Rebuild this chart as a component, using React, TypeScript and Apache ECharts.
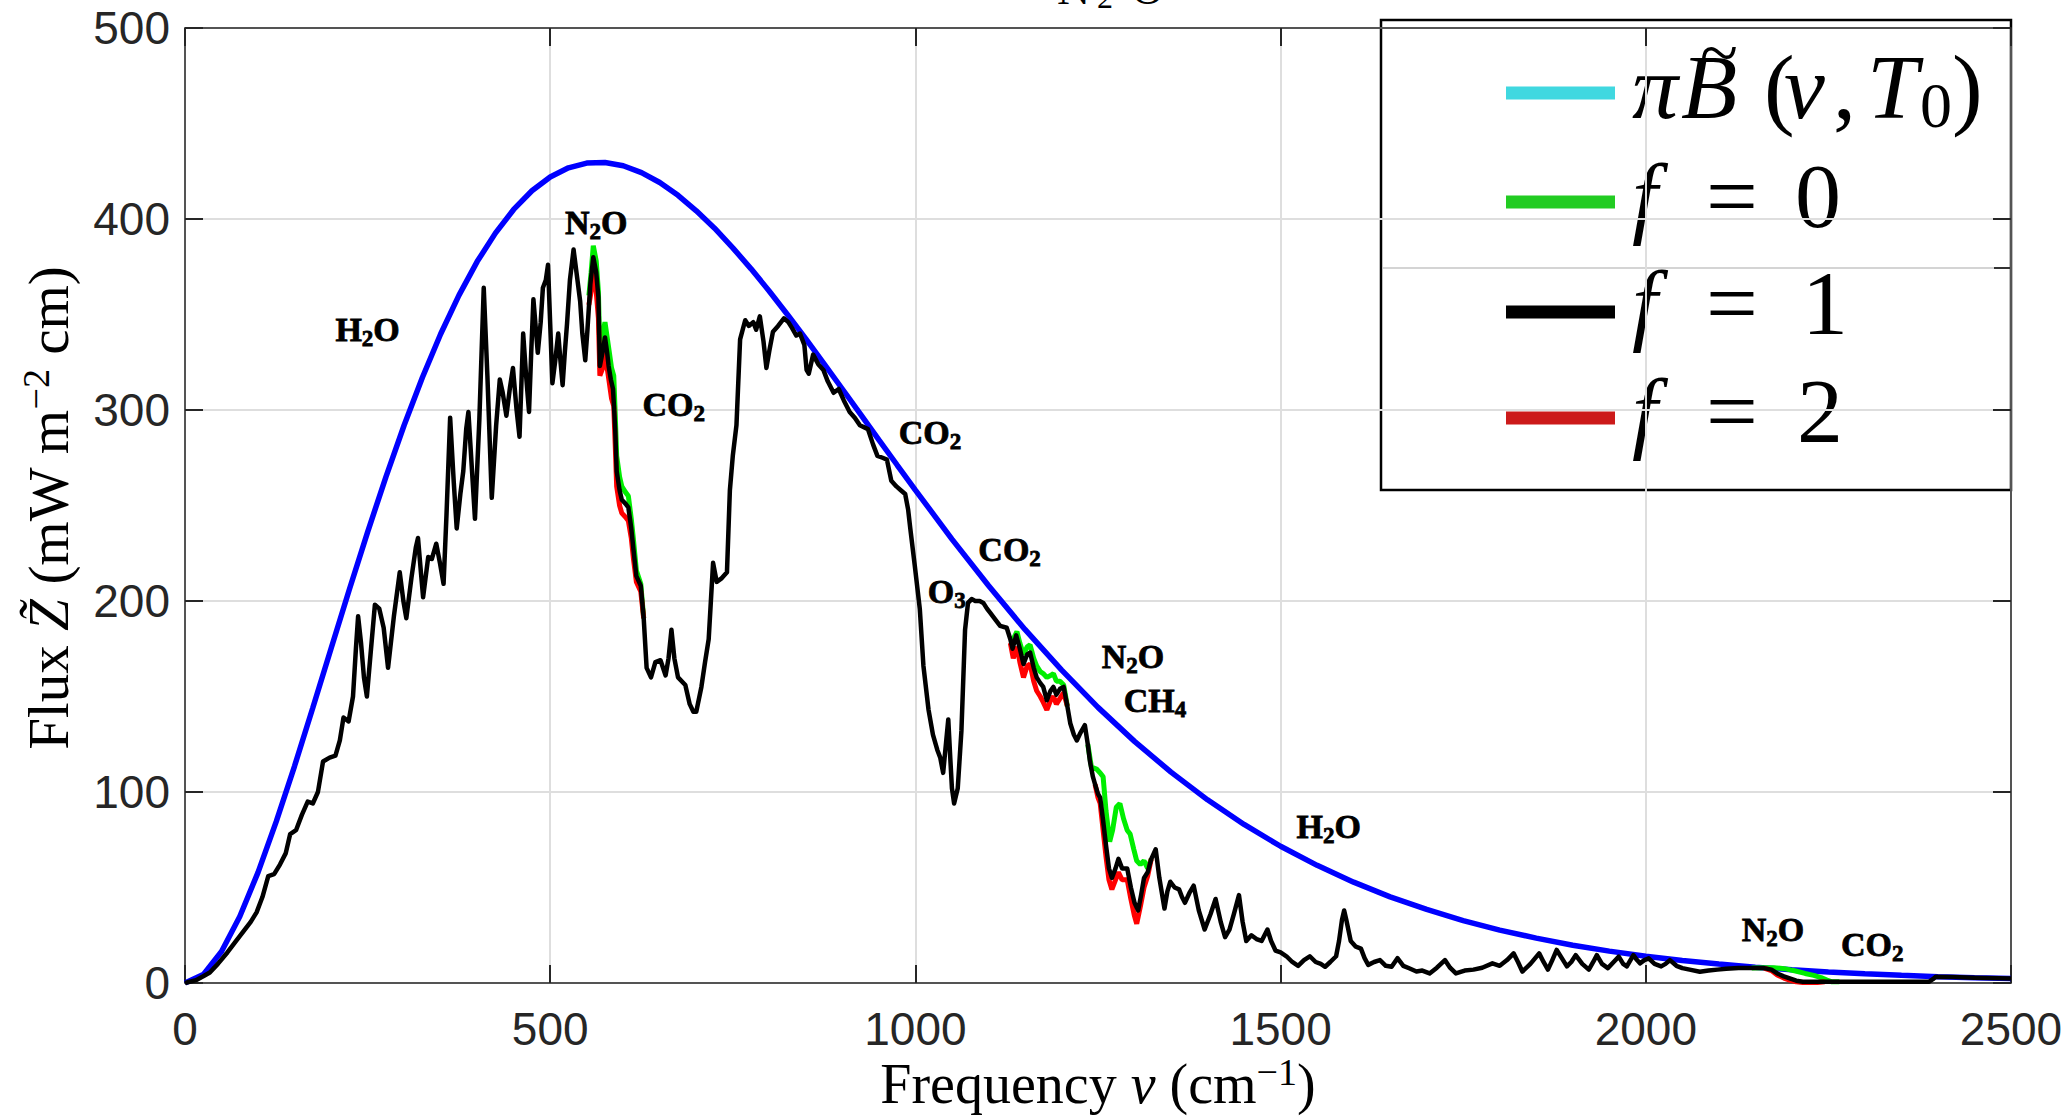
import React, { useEffect, useRef } from 'react';
import * as echarts from 'echarts';

// ---------- data ----------
const xTicks = [0, 500, 1000, 1500, 2000, 2500];
const yTicks = [0, 100, 200, 300, 400, 500];

// blue curve: pi * B(nu, T0)
const planckCurve: [number, number][] = [
  [0, 0], [25, 4.4], [50, 16.5], [75, 34.8], [100, 57.9], [125, 84.6], [150, 113.6], [175, 144.1],
  [200, 175.1], [225, 206.0], [250, 236.1], [275, 264.9], [300, 292.0], [325, 317.0], [350, 339.8],
  [375, 360.0], [400, 377.7], [425, 392.6], [450, 405.0], [475, 414.8], [500, 422.0], [525, 426.8],
  [550, 429.3], [575, 429.6], [600, 427.9], [625, 424.3], [650, 419.1], [675, 412.4], [700, 404.3],
  [725, 395.2], [750, 384.9], [775, 373.9], [800, 362.2], [825, 349.9], [850, 337.2], [875, 324.2],
  [900, 311.0], [925, 297.7], [950, 284.4], [975, 271.2], [1000, 258.1], [1050, 232.4], [1100, 208.1],
  [1150, 185.1], [1200, 163.9], [1250, 144.3], [1300, 126.5], [1350, 110.4], [1400, 95.9], [1450, 83.0],
  [1500, 71.6], [1550, 61.6], [1600, 52.8], [1650, 45.1], [1700, 38.5], [1750, 32.7], [1800, 27.7],
  [1850, 23.5], [1900, 19.8], [1950, 16.7], [2000, 14.0], [2050, 11.8], [2100, 9.9], [2150, 8.3],
  [2200, 6.9], [2250, 5.8], [2300, 4.8], [2350, 4.0], [2400, 3.3], [2450, 2.7], [2500, 2.3],
];

// black curve: f = 1
const fluxF1: [number, number][] = [
  [0, 0], [15, 1.5], [25, 3.5], [34, 5.5], [45, 10], [58, 16], [70, 22], [80, 27], [90, 32], [98, 37],
  [106, 45], [114, 56], [122, 57], [130, 62], [138, 68], [144, 78], [152, 80], [160, 88], [168, 95],
  [175, 94], [182, 100], [189, 116], [198, 118], [206, 119], [212, 127], [217, 139], [224, 137],
  [230, 150], [234, 175], [237, 192], [241, 178], [245, 160], [249, 150], [254, 172], [260, 198],
  [266, 196], [272, 186], [278, 165], [286, 192], [294, 215], [299, 200], [303, 191], [310, 212],
  [316, 228], [319, 233], [323, 215], [326, 202], [333, 223], [338, 222], [344, 230], [349, 220],
  [354, 209], [358, 245], [363, 296], [368, 262], [372, 238], [377, 256], [381, 268], [385, 290],
  [388, 299], [392, 274], [397, 243], [403, 295], [409, 364], [414, 318], [420, 254], [426, 292],
  [431, 316], [435, 309], [440, 297], [445, 312], [449, 322], [454, 300], [458, 286], [463, 340],
  [467, 318], [471, 299], [474, 330], [477, 358], [480, 344], [483, 330], [487, 346], [490, 364],
  [494, 368], [497, 376], [500, 345], [503, 314], [507, 326], [511, 340], [514, 326], [517, 313],
  [520, 330], [523, 345], [527, 368], [532, 384], [536, 372], [541, 357], [544, 340], [548, 326],
  [551, 342], [555, 366], [559, 380], [563, 372], [566, 359], [568, 323], [572, 331], [575, 338],
  [578, 330], [580, 323], [583, 316], [586, 311], [589, 290], [591, 268], [595, 258], [598, 253],
  [603, 251], [607, 249], [611, 238], [614, 227], [618, 213], [624, 208], [628, 191], [632, 165],
  [638, 160], [644, 168], [651, 169], [658, 161], [662, 170], [666, 185], [670, 170], [675, 160],
  [685, 156], [691, 146], [696, 142], [700, 142], [707, 155], [712, 168], [717, 180], [720, 200],
  [723, 220], [728, 210], [735, 212], [742, 215], [746, 258], [750, 276], [755, 292], [760, 337],
  [767, 347], [772, 344], [778, 346], [782, 342], [787, 349], [792, 336], [796, 322], [800, 331],
  [805, 341], [812, 344], [820, 348], [826, 346], [831, 343], [837, 339], [842, 340], [848, 334],
  [851, 321], [854, 319], [860, 329], [867, 324], [874, 321], [880, 315], [888, 309], [895, 311],
  [902, 305], [910, 299], [917, 296], [924, 292], [935, 290], [942, 282], [948, 276], [955, 275],
  [961, 274], [967, 263], [974, 260], [980, 258], [986, 256], [990, 248], [993, 238], [999, 219],
  [1006, 196], [1011, 166], [1018, 143], [1024, 130], [1030, 122], [1034, 118], [1038, 110],
  [1042, 126], [1045, 138], [1048, 116], [1050, 102], [1053, 94], [1058, 102], [1063, 132],
  [1068, 185], [1072, 199], [1077, 201], [1082, 200], [1088, 200], [1093, 199], [1098, 196],
  [1102, 194], [1110, 190], [1116, 187], [1125, 186], [1130, 180], [1133, 175], [1138, 182],
  [1143, 175], [1148, 167], [1153, 172], [1157, 173], [1162, 165], [1166, 160], [1171, 157],
  [1175, 155], [1180, 148], [1185, 153], [1189, 155], [1193, 151], [1198, 154], [1203, 155],
  [1208, 145], [1212, 136], [1217, 130], [1221, 127], [1226, 131], [1232, 135], [1236, 125],
  [1239, 116], [1243, 108], [1246, 104], [1250, 99], [1253, 97], [1257, 85], [1261, 72], [1265, 60],
  [1269, 55], [1274, 60], [1278, 65], [1283, 60], [1290, 60], [1295, 50], [1300, 42], [1305, 38],
  [1309, 46], [1313, 55], [1318, 58], [1323, 65], [1329, 70], [1334, 55], [1341, 39], [1345, 48],
  [1349, 53], [1355, 50], [1361, 49], [1365, 45], [1369, 42], [1375, 47], [1381, 51], [1388, 38],
  [1396, 28], [1404, 36], [1411, 44], [1418, 32], [1424, 24], [1430, 28], [1436, 36], [1443, 46],
  [1448, 32], [1453, 22], [1460, 25], [1467, 23], [1474, 22], [1482, 28], [1487, 22], [1493, 17],
  [1500, 16], [1508, 14], [1516, 11], [1524, 9], [1532, 12], [1540, 14], [1548, 11], [1555, 10],
  [1561, 8.5], [1568, 11], [1576, 14], [1580, 22], [1584, 33], [1587, 38], [1590, 33], [1596, 22],
  [1603, 19], [1610, 18], [1615, 13], [1620, 9.5], [1628, 11], [1636, 12], [1644, 9], [1652, 8.5],
  [1660, 13], [1668, 9], [1676, 7.7], [1686, 6], [1694, 6.5], [1704, 5], [1714, 8], [1725, 12],
  [1732, 8], [1740, 5], [1752, 6.5], [1764, 7], [1776, 8], [1790, 10.3], [1800, 9], [1810, 12],
  [1819, 15.5], [1825, 11], [1831, 6], [1842, 10], [1854, 15.5], [1860, 11], [1866, 7], [1872, 12],
  [1878, 17.3], [1885, 13], [1892, 8.7], [1898, 11], [1904, 14.6], [1913, 10], [1922, 7], [1928, 11],
  [1933, 14.6], [1940, 10], [1948, 7.8], [1956, 11], [1963, 13.8], [1969, 10], [1974, 8.7],
  [1983, 14.6], [1988, 12], [1992, 10.3], [1998, 12], [2004, 12.9], [2012, 10], [2021, 8.7],
  [2027, 10], [2033, 12], [2042, 9], [2050, 7.8], [2060, 7], [2074, 5.9], [2086, 6.5], [2098, 7],
  [2110, 7.5], [2127, 7.8], [2145, 7.8], [2162, 7.8], [2172, 7], [2180, 5], [2189, 3.5], [2197, 2.4],
  [2206, 1.2], [2215, 0.7], [2250, 0.6], [2300, 0.6], [2350, 0.6], [2388, 0.7], [2393, 2],
  [2397, 3.3], [2420, 3.1], [2450, 2.7], [2500, 2.3],
];

// green curve: f = 0 (only where it departs from f = 1)
const fluxF0Segments: [number, number][][] = [
  [[553, 360], [556, 372], [559, 386], [563, 378], [566, 362], [568, 330], [572, 340], [575, 346],
   [578, 338], [581, 330], [584, 322], [587, 318], [589, 298], [591, 276], [595, 265], [598, 260],
   [603, 257], [607, 255], [611, 243], [614, 232], [618, 216], [624, 209], [628, 191]],
  [[1130, 180], [1134, 180], [1139, 184], [1143, 178], [1148, 172], [1153, 176], [1157, 177],
   [1162, 170], [1166, 166], [1171, 163], [1175, 162], [1180, 160], [1185, 161], [1189, 162],
   [1193, 158], [1198, 158], [1203, 156], [1208, 145]],
  [[1236, 125], [1241, 113], [1248, 112], [1253, 110], [1257, 108], [1261, 90], [1266, 74],
   [1270, 80], [1275, 92], [1280, 94], [1285, 86], [1290, 80], [1294, 78], [1299, 70], [1303, 64],
   [1308, 62], [1313, 64], [1318, 60], [1323, 65]],
  [[2145, 7.8], [2162, 8.0], [2175, 8.0], [2190, 7.5], [2205, 6.3], [2218, 5], [2230, 4], [2240, 2.8],
   [2248, 1.5], [2255, 0.6], [2265, 0.6]],
];

// red curve: f = 2 (only where it departs from f = 1)
const fluxF2Segments: [number, number][][] = [
  [[553, 355], [556, 362], [559, 372], [563, 362], [566, 348], [568, 318], [572, 322], [575, 330],
   [578, 322], [581, 314], [584, 306], [587, 302], [589, 282], [591, 260], [595, 250], [598, 246],
   [603, 244], [607, 242], [611, 233], [614, 222], [618, 210], [624, 205], [628, 191]],
  [[1130, 178], [1134, 170], [1139, 176], [1143, 168], [1148, 160], [1153, 166], [1157, 167],
   [1162, 158], [1166, 153], [1171, 150], [1175, 147], [1180, 143], [1185, 148], [1189, 150],
   [1193, 146], [1198, 149], [1203, 152], [1208, 145]],
  [[1246, 104], [1250, 97], [1253, 94], [1257, 80], [1261, 66], [1265, 54], [1269, 49], [1274, 54],
   [1278, 58], [1283, 54], [1290, 54], [1295, 44], [1300, 35], [1303, 31], [1308, 40], [1313, 50],
   [1318, 56], [1323, 65]],
  [[2162, 7.8], [2172, 6.5], [2180, 4.2], [2189, 2.6], [2197, 1.5], [2206, 0.6], [2215, 0.3],
   [2235, 0.3], [2245, 0.6]],
];

// molecule annotations
const annotationLabels = ['H2O', 'N2O', 'CO2', 'CO2', 'CO2', 'O3', 'N2O', 'CH4', 'H2O', 'N2O', 'CO2'];
const annotationNu = [250, 563, 669, 1020, 1129, 1043, 1298, 1328, 1566, 2174, 2310];
const annotationFlux = [342, 398, 303, 288, 227, 205, 171, 148, 82, 28, 20];

// ---------- styling ----------
const SERIF = "'Liberation Serif', 'Times New Roman', serif";
const SANS = "'Liberation Sans', Arial, Helvetica, sans-serif";
const AX = '#262626';
const GRID_COLOR = '#dedede';

const toRich = (s: string) =>
  s.split('').map((c) => (/[0-9]/.test(c) ? `{s|${c}}` : `{m|${c}}`)).join('');

function buildOption(): any {
  const baseAxis = {
    type: 'value',
    axisLine: { show: true, onZero: false, lineStyle: { color: AX, width: 1.5 } },
    axisTick: { show: true, inside: true, length: 18, lineStyle: { color: AX, width: 2 } },
  };

  const series: any[] = [];
  series.push({
    type: 'line', data: planckCurve, showSymbol: false, symbol: 'none', silent: true,
    lineStyle: { color: '#0000ff', width: 5.5 }, z: 2,
  });
  fluxF0Segments.forEach((seg) =>
    series.push({
      type: 'line', data: seg, showSymbol: false, symbol: 'none', silent: true,
      lineStyle: { color: '#00ee00', width: 5 }, z: 3,
    })
  );
  fluxF2Segments.forEach((seg) =>
    series.push({
      type: 'line', data: seg, showSymbol: false, symbol: 'none', silent: true,
      lineStyle: { color: '#ff0000', width: 5 }, z: 3,
    })
  );
  series.push({
    type: 'line', data: fluxF1, showSymbol: false, symbol: 'none', silent: true,
    lineStyle: { color: '#000000', width: 4.5, join: 'round' }, z: 4,
  });
  const annoText = { color: '#000', textBorderColor: '#000', textBorderWidth: 0.8, opacity: 1 };
  series.push({
    type: 'scatter', silent: true, z: 6,
    data: annotationLabels.map((n, i) => ({ name: n, value: [annotationNu[i], annotationFlux[i]] })),
    symbol: 'circle', symbolSize: 1,
    itemStyle: { color: 'rgba(255,255,255,0)', opacity: 1 },
    label: {
      show: true, position: 'inside', color: '#000', opacity: 1,
      formatter: (p: any) => toRich(p.name),
      rich: {
        m: { fontFamily: SERIF, fontSize: 34, fontWeight: 'bold', lineHeight: 41, ...annoText },
        s: { fontFamily: SERIF, fontSize: 23, fontWeight: 'bold', verticalAlign: 'bottom', ...annoText },
      },
    },
  });

  const legendRows = [
    { color: '#40d8e0', y: 93 },
    { color: '#22cc22', y: 202 },
    { color: '#000000', y: 312 },
    { color: '#cc1a1a', y: 418 },
  ];
  const LFS = 92;
  const mathText = (x: number, y: number, text: string, italic: boolean, size = LFS) => ({
    type: 'text', x, y, silent: true,
    style: {
      text, fontFamily: SERIF, fontSize: size, fontStyle: italic ? 'italic' : 'normal',
      fill: '#000', textAlign: 'left', textVerticalAlign: 'middle',
    },
  });
  const row1 = 87;
  const legendChildren: any[] = [
    { type: 'rect', shape: { x: 1381, y: 20, width: 630, height: 470 },
      style: { fill: '#ffffff', stroke: '#000', lineWidth: 2.5 } },
    { type: 'line', shape: { x1: 1383, y1: 268, x2: 1994, y2: 268 }, style: { stroke: '#d4d4d4', lineWidth: 2 } },
    { type: 'line', shape: { x1: 1994, y1: 268, x2: 2010, y2: 268 }, style: { stroke: '#333', lineWidth: 2 } },
    ...legendRows.map((r) => ({
      type: 'line', shape: { x1: 1506, y1: r.y, x2: 1615, y2: r.y },
      style: { stroke: r.color, lineWidth: 13 },
    })),
    mathText(1632, row1, 'π', true),
    mathText(1681, row1, 'B', true),
    mathText(1700, 52, '~', false, 70),
    mathText(1764, row1, '(', false),
    mathText(1784, row1, 'ν', true),
    mathText(1833, row1, ',', false),
    mathText(1867, row1, 'T', true),
    mathText(1920, row1 + 18, '0', false, 64),
    mathText(1952, row1, ')', false),
  ];
  const rowYs = [196, 303, 411];
  const rowDigits = [['0', 1795], ['1', 1802], ['2', 1797]];
  rowYs.forEach((y, i) => {
    legendChildren.push(mathText(1632, y, 'f', true));
    legendChildren.push(mathText(1706, y, '=', false));
    legendChildren.push(mathText(rowDigits[i][1] as number, y, rowDigits[i][0] as string, false));
  });

  return {
    animation: false,
    backgroundColor: '#ffffff',
    grid: { left: 185, top: 28, width: 1826, height: 955, containLabel: false },
    xAxis: [
      {
        ...baseAxis, position: 'bottom', min: 0, max: 2500, interval: 500,
        axisLabel: { show: true, margin: 23, fontSize: 46, color: AX, fontFamily: SANS,
          customValues: xTicks, formatter: (v: number) => String(v) },
        splitLine: { show: true, lineStyle: { color: GRID_COLOR, width: 2 } },
      },
      {
        ...baseAxis, position: 'top', min: 0, max: 2500, interval: 500,
        axisLabel: { show: false }, splitLine: { show: false },
      },
    ],
    yAxis: [
      {
        ...baseAxis, position: 'left', min: 0, max: 500, interval: 100,
        axisLabel: { show: true, margin: 15, fontSize: 46, color: AX, fontFamily: SANS,
          customValues: yTicks, formatter: (v: number) => String(v) },
        splitLine: { show: true, lineStyle: { color: GRID_COLOR, width: 2 } },
      },
      {
        ...baseAxis, position: 'right', min: 0, max: 500, interval: 100,
        axisLabel: { show: false }, splitLine: { show: false },
      },
    ],
    series,
    graphic: [
      {
        type: 'text', x: 1098, y: 1084, silent: true,
        style: {
          text: '{n|Frequency }{i|ν}{n| (cm}{p|−1}{n|)}',
          textAlign: 'center', textVerticalAlign: 'middle', fill: '#000',
          rich: {
            n: { fontFamily: SERIF, fontSize: 56, lineHeight: 62, fill: '#000', color: '#000' },
            i: { fontFamily: SERIF, fontSize: 56, lineHeight: 62, fontStyle: 'italic', fill: '#000', color: '#000' },
            p: { fontFamily: SERIF, fontSize: 38, verticalAlign: 'top', fill: '#000', color: '#000' },
          },
        },
      },
      {
        type: 'text', x: 48, y: 508, rotation: Math.PI / 2, silent: true,
        style: {
          text: '{n|Flux }{i|Z\u0303}{n| (mW m}{p|−2}{n| cm)}',
          textAlign: 'center', textVerticalAlign: 'middle', fill: '#000',
          rich: {
            n: { fontFamily: SERIF, fontSize: 57, lineHeight: 63, fill: '#000', color: '#000' },
            i: { fontFamily: SERIF, fontSize: 57, lineHeight: 63, fontStyle: 'italic', fill: '#000', color: '#000' },
            p: { fontFamily: SERIF, fontSize: 38, verticalAlign: 'top', fill: '#000', color: '#000' },
          },
        },
      },
      // fragment of a caption cut off by the top of the image
      mathText(1057, -12, 'N', false, 46),
      mathText(1097, -3, '2', false, 32),
      mathText(1131, -12, 'O', false, 46),
      { type: 'group', z: 100, children: legendChildren },
    ],
  };
}

export default function App() {
  const ref = useRef<HTMLDivElement>(null);
  useEffect(() => {
    if (!ref.current) return;
    const chart = echarts.init(ref.current, null, { renderer: 'svg' });
    chart.setOption(buildOption());
    return () => chart.dispose();
  }, []);
  return (
    <div
      ref={ref}
      style={{ position: 'absolute', left: 0, top: 0, width: 2072, height: 1118, background: '#fff' }}
    />
  );
}
